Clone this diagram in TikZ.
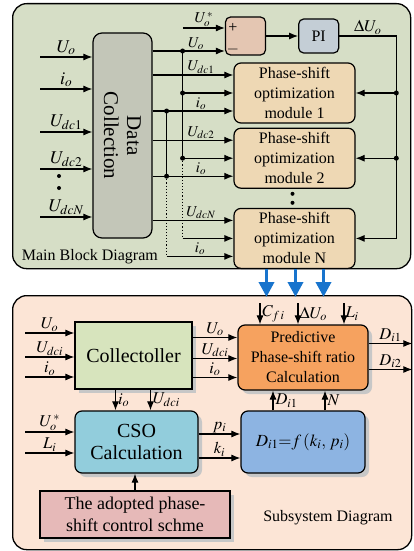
\documentclass[tikz,border=0pt]{standalone}
\usepackage{mathptmx}
\usepackage{fontspec}
\setmainfont{Liberation Serif}
\usetikzlibrary{
  arrows.meta,
  positioning,
  calc,
  shadows
}
\definecolor{mbpanel}{HTML}{D6DEC6}
\definecolor{mbgray}{HTML}{C3C6B8}
\definecolor{mbtan}{HTML}{EED8B4}
\definecolor{mbsum}{HTML}{E4C6B2}
\definecolor{mbpi}{HTML}{C4CED6}
\definecolor{sspanel}{HTML}{FCE5D6}
\definecolor{ssgreen}{HTML}{D7E4BD}
\definecolor{sscyan}{HTML}{92CDDC}
\definecolor{ssorange}{HTML}{F6A25F}
\definecolor{ssblue}{HTML}{8DB4E2}
\definecolor{ssrose}{HTML}{E6B9B8}
\definecolor{linkblue}{HTML}{1874CD}

\begin{document}
\begin{tikzpicture}[
    x=1pt, y=-1pt, line width=1.1pt,
    panel/.style={
      rectangle, rounded corners=14pt, draw=black, line width=1.3pt,
      anchor=north west, inner sep=0pt
    },
    box/.style={
      rectangle, rounded corners=7pt, draw=black, line width=1.2pt,
      align=center, inner sep=1pt
    },
    module/.style={
      box, fill=mbtan, minimum width=121pt, minimum height=60pt,
      font=\fontsize{16}{20}\selectfont
    },
    boxshadow/.style={
      drop shadow={shadow xshift=4pt, shadow yshift=-4pt, fill=black!22, opacity=1}
    },
    arrow/.style={-{Latex[length=9pt,width=7pt]}},
    bigarrow/.style={-{Triangle[length=15pt,width=15pt]}, line width=3.6pt, linkblue},
    biglbl/.style={font=\fontsize{18}{20}\selectfont, inner sep=1.5pt},
    lbl/.style={font=\fontsize{15}{17}\selectfont, inner sep=1pt},
    sublbl/.style={font=\fontsize{16.5}{18}\selectfont, inner sep=1pt},
    paneltitle/.style={font=\fontsize{16}{18}\selectfont},
    jdot/.style={circle, fill=black, inner sep=0pt, minimum size=5pt}
  ]
  \useasboundingbox (0,0) rectangle (414,551);

  % Main block
  \node[panel, fill=mbpanel, minimum width=398pt, minimum height=265pt] (mainpanel) at (12,3) {};
  \node[paneltitle, anchor=south west] (maintitle) at ($(mainpanel.south west)+(6,-1)$) {Main Block Diagram};

  \node[box, fill=mbgray, rounded corners=9pt, minimum width=59pt, minimum height=205pt] (datacol) at (122.5,135.5) {};
  \node[rotate=-90, align=center, font=\fontsize{21}{23}\selectfont] (datatext) at (datacol.center) {Data\\Collection};

  \node[box, fill=mbsum, rounded corners=5pt, minimum width=40pt, minimum height=38pt] (sum) at (245.5,36) {};
  \node[box, fill=mbpi, rounded corners=5pt, minimum width=40pt, minimum height=34pt, font=\fontsize{16}{18}\selectfont, right=32pt of sum] (pi) {PI};

  \node[module] (mod1) at (294.5,93) {Phase-shift\\optimization\\module 1};
  \node[module, below=4pt of mod1] (mod2) {Phase-shift\\optimization\\module 2};
  \node[module, below=19pt of mod2] (modN) {Phase-shift\\optimization\\module N};

  % Inputs of the data collection
  \coordinate (inUo) at (40,57);
  \coordinate (inio) at (40,89);
  \coordinate (inUa) at (40,132);
  \coordinate (inUb) at (40,169);
  \coordinate (inUn) at (40,217);
  \draw[arrow] (inUo) -- (datacol.west |- inUo) node[biglbl, midway, above] (lUo) {$U_o$};
  \draw[arrow] (inio) -- (datacol.west |- inio) node[biglbl, midway, above] (lio) {$i_o$};
  \draw[arrow] (inUa) -- (datacol.west |- inUa) node[biglbl, midway, above] (lUa) {$U_{dc1}$};
  \draw[arrow] (inUb) -- (datacol.west |- inUb) node[biglbl, midway, above] (lUb) {$U_{dc2}$};
  \draw[arrow] (inUn) -- (datacol.west |- inUn) node[biglbl, midway, above] (lUn) {$U_{dcN}$};
  \node[jdot, minimum size=4pt] (ld1) at (59,176) {};
  \node[jdot, minimum size=4pt] (ld2) at (59,188) {};

  % Comparator and PI
  \coordinate (uref) at ($(sum.west)+(-42,-8)$);
  \coordinate (sumuo) at ($(sum.west)+(0,15)$);
  \draw[arrow] (uref) -- (sum.west |- uref) node[lbl, midway, above] (lUref) {$U_o^{\,*}$};
  \draw[arrow] (datacol.east |- sumuo) -- (sumuo) node[lbl, pos=0.6, above] (lUo0) {$U_o$};
  \node[font=\fontsize{16}{16}\selectfont, inner sep=0pt] (plus) at ($(sum.west |- uref)+(8,0)$) {+};
  \node[font=\fontsize{16}{16}\selectfont, inner sep=0pt] (minus) at ($(sum.west |- sumuo)+(8,-1)$) {$-$};
  \draw[arrow] (sum) -- (pi);

  % Module inputs
  \coordinate (m1a) at ($(mod1.west)+(0,-18)$);
  \coordinate (m1b) at (mod1.west);
  \coordinate (m1c) at ($(mod1.west)+(0,18)$);
  \coordinate (m2a) at ($(mod2.west)+(0,-18)$);
  \coordinate (m2b) at (mod2.west);
  \coordinate (m2c) at ($(mod2.west)+(0,18)$);
  \coordinate (mNa) at ($(modN.west)+(0,-18)$);
  \coordinate (mNb) at (modN.west);
  \coordinate (mNc) at ($(modN.west)+(0,18)$);
  \coordinate (ja) at ($(datacol.east |- sumuo)+(30,0)$);
  \coordinate (jb) at ($(datacol.east |- m1c)+(14,0)$);

  \draw[arrow] (datacol.east |- m1a) -- (m1a) node[lbl, pos=0.6, above] (lm1a) {$U_{dc1}$};
  \draw[arrow] (ja |- m1b) -- (m1b);
  \draw[arrow] (datacol.east |- m1c) -- (m1c) node[lbl, pos=0.6, above] (lm1c) {$i_o$};
  \draw[arrow] (datacol.east |- m2a) -- (m2a) node[lbl, pos=0.6, above] (lm2a) {$U_{dc2}$};
  \draw[arrow] (ja |- m2b) -- (m2b);
  \draw[arrow] (datacol.east |- m2c) -- (m2c) node[lbl, pos=0.6, above] (lm2c) {$i_o$};
  \draw[arrow] (datacol.east |- mNa) -- (mNa) node[lbl, pos=0.6, above] (lmNa) {$U_{dcN}$};
  \draw[arrow] (ja |- mNb) -- (mNb);
  \draw[arrow] (jb |- mNc) -- (mNc) node[lbl, pos=0.5, above] (lmNc) {$i_o$};

  \draw (ja) -- (ja |- m2b);
  \draw[dotted] (ja |- m2b) -- (ja |- mNb);
  \draw (jb) -- (jb |- m2c);
  \draw[dotted] (jb |- m2c) -- (jb |- mNc);
  \node[jdot] (dja) at (ja) {};
  \node[jdot] (dj1) at (ja |- m1b) {};
  \node[jdot] (dj2) at (ja |- m2b) {};
  \node[jdot] (djb) at (jb) {};
  \node[jdot] (djc) at (jb |- m2c) {};
  \node[jdot, minimum size=4pt] (md1) at ($(mod2.south)+(-2,5)$) {};
  \node[jdot, minimum size=4pt] (md2) at ($(mod2.south)+(-2,14)$) {};

  % Feedback of the PI output
  \coordinate (fb) at ($(pi.east)+(57,0)$);
  \draw[arrow] (pi.east) -- (fb) node[sublbl, midway, above] (ldU) {$\Delta U_o$} |- (modN.east);
  \draw[arrow] (fb |- mod1.east) -- (mod1.east);
  \draw[arrow] (fb |- mod2.east) -- (mod2.east);
  \node[jdot] (df1) at (fb |- mod1.east) {};
  \node[jdot] (df2) at (fb |- mod2.east) {};

  % Subsystem
  \node[panel, fill=sspanel, minimum width=399pt, minimum height=254pt] (subpanel) at (12,295) {};
  \node[paneltitle] (subtitle) at (328,518) {Subsystem Diagram};

  \draw[bigarrow] ($(modN.south)+(-28,0)$) -- ($(modN.south |- subpanel.north)+(-28,2)$);
  \draw[bigarrow] ($(modN.south)+(1,0)$) -- ($(modN.south |- subpanel.north)+(1,2)$);
  \draw[bigarrow] ($(modN.south)+(29,0)$) -- ($(modN.south |- subpanel.north)+(29,2)$);

  \node[box, boxshadow, sharp corners, fill=ssgreen, minimum width=117pt, minimum height=67pt, font=\fontsize{20}{22}\selectfont] (coll) at (133.5,355.5) {Collectoller};
  \node[box, boxshadow, fill=sscyan, minimum width=123pt, minimum height=62pt, font=\fontsize{20}{22}\selectfont] (cso) at (136.5,442) {CSO\\Calculation};
  \node[box, boxshadow, fill=ssorange, minimum width=130pt, minimum height=65pt, font=\fontsize{16}{20}\selectfont] (pred) at (303,357.5) {Predictive\\Phase-shift ratio\\Calculation};
  \node[box, boxshadow, fill=ssblue, minimum width=124pt, minimum height=62pt, font=\fontsize{17}{20}\selectfont] (dbox) at (303,442) {$D_{i1}{=}f\,(k_i,\,p_i)$};
  \node[box, boxshadow, sharp corners, fill=ssrose, minimum width=190pt, minimum height=47pt, font=\fontsize{18}{22}\selectfont] (scheme) at (135,514.5) {The adopted phase-\\shift control schme};

  % Collectoller inputs and outputs
  \coordinate (sUo) at (25,333);
  \coordinate (sUd) at (25,357);
  \coordinate (sio) at (25,377);
  \draw[arrow] (sUo) -- (coll.west |- sUo) node[sublbl, midway, above] (lsUo) {$U_o$};
  \draw[arrow] (sUd) -- (coll.west |- sUd) node[sublbl, midway, above] (lsUd) {$U_{dci}$};
  \draw[arrow] (sio) -- (coll.west |- sio) node[sublbl, midway, above] (lsio) {$i_o$};

  \coordinate (pa) at ($(pred.west)+(0,-20)$);
  \coordinate (pb) at ($(pred.west)+(0,1)$);
  \coordinate (pc) at ($(pred.west)+(0,20)$);
  \draw[arrow] (coll.east |- pa) -- (pa) node[sublbl, midway, above] (lpa) {$U_o$};
  \draw[arrow] (coll.east |- pb) -- (pb) node[sublbl, midway, above] (lpb) {$U_{dci}$};
  \draw[arrow] (coll.east |- pc) -- (pc) node[sublbl, midway, above] (lpc) {$i_o$};

  \coordinate (ca) at ($(coll.south)+(-18,0)$);
  \coordinate (cb) at ($(coll.south)+(17,0)$);
  \draw[arrow] (ca) -- (ca |- cso.north) node[sublbl, midway, right, xshift=1pt] (lca) {$i_o$};
  \draw[arrow] (cb) -- (cb |- cso.north) node[sublbl, midway, right, xshift=1pt] (lcb) {$U_{dci}$};

  % CSO inputs and outputs
  \coordinate (sUr) at (25,432);
  \coordinate (sLi) at (25,453);
  \draw[arrow] (sUr) -- (cso.west |- sUr) node[sublbl, midway, above] (lsUr) {$U_o^{\,*}$};
  \draw[arrow] (sLi) -- (cso.west |- sLi) node[sublbl, midway, above] (lsLi) {$L_i$};

  \coordinate (da) at ($(dbox.west)+(0,-8)$);
  \coordinate (db) at ($(dbox.west)+(0,16)$);
  \draw[arrow] (cso.east |- da) -- (da) node[sublbl, midway, above] (lda) {$p_i$};
  \draw[arrow] (cso.east |- db) -- (db) node[sublbl, midway, above] (ldb) {$k_i$};

  \coordinate (ua) at ($(dbox.north)+(-30,0)$);
  \coordinate (ub) at ($(dbox.north)+(22,0)$);
  \draw[arrow] (ua) -- (ua |- pred.south) node[sublbl, midway, right, xshift=1pt] (lua) {$D_{i1}$};
  \draw[arrow] (ub) -- (ub |- pred.south) node[sublbl, midway, right, xshift=1pt] (lub) {$N$};

  \draw[arrow] (scheme.north) -- (scheme.north |- cso.south);

  % Predictive block inputs and outputs
  \coordinate (ta) at ($(pred.north)+(-43,0)$);
  \coordinate (tb) at ($(pred.north)+(-5,0)$);
  \coordinate (tc) at ($(pred.north)+(41,0)$);
  \draw[arrow] ($(ta)+(0,-21)$) -- (ta) node[sublbl, midway, right, xshift=1pt] (lta) {$C_{f\,i}$};
  \draw[arrow] ($(tb)+(0,-21)$) -- (tb) node[sublbl, midway, right] (ltb) {$\Delta U_o$};
  \draw[arrow] ($(tc)+(0,-21)$) -- (tc) node[sublbl, midway, right] (ltc) {$L_i$};

  \coordinate (oa) at ($(pred.east)+(0,-14)$);
  \coordinate (ob) at ($(pred.east)+(0,12)$);
  \draw[arrow] (oa) -- (oa -| subpanel.east) node[sublbl, midway, above] (loa) {$D_{i1}$};
  \draw[arrow] (ob) -- (ob -| subpanel.east) node[sublbl, midway, above] (lob) {$D_{i2}$};
\end{tikzpicture}
\end{document}
